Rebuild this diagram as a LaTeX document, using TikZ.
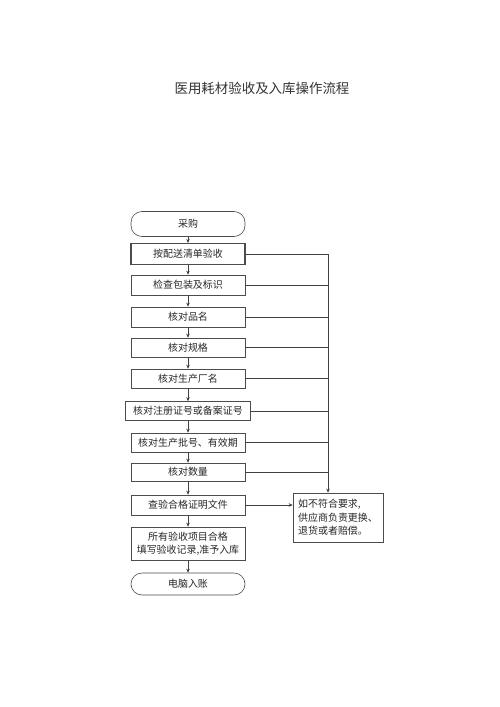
\documentclass[tikz,border=0pt]{standalone}
\usepackage{fontspec}
\newfontfamily\cjk{Noto Sans CJK SC}
\usetikzlibrary{arrows.meta}
\begin{document}
\begin{tikzpicture}[x=1bp,y=-1bp,
  box/.style={draw=black!70,line width=0.6bp,minimum width=114bp,inner sep=0pt,font=\cjk\fontsize{10}{12.5}\selectfont,text=black!85,align=center},
  rbox/.style={box,rounded corners=11bp},
  conn/.style={draw=black!75,line width=0.6bp},
  arr/.style={conn,-{Stealth[length=4bp,width=3.5bp]}}]
\useasboundingbox (0,0) rectangle (500,707);
\node[font=\cjk\fontsize{13.5}{15}\selectfont,text=black!80] (title) at (262,88) {医用耗材验收及入库操作流程};
\node[rbox,minimum height=25bp] (s) at (188,224) {采购};
\node[box,minimum height=21bp,line width=1.1bp] (b1) at (188,254) {按配送清单验收};
\node[box,minimum height=20bp] (b2) at (188,285) {检查包装及标识};
\node[box,minimum height=20bp] (b3) at (188,317) {核对品名};
\node[box,minimum height=19bp] (b4) at (188,347.5) {核对规格};
\node[box,minimum height=19bp] (b5) at (188,378.5) {核对生产厂名};
\node[box,minimum height=19bp,minimum width=125bp] (b6) at (188,411) {核对注册证号或备案证号};
\node[box,minimum height=19bp] (b7) at (188,442.5) {核对生产批号、有效期};
\node[box,minimum height=18bp] (b8) at (188,472) {核对数量};
\node[box,minimum height=20bp] (b9) at (188,505) {查验合格证明文件};
\node[box,minimum height=33bp] (b10) at (188,543.5) {所有验收项目合格\\填写验收记录,准予入库};
\node[rbox,minimum height=22bp] (e) at (188,584) {电脑入账};
\node[box,minimum width=90bp,minimum height=49bp,align=left,font=\cjk\fontsize{10}{13.5}\selectfont] (side) at (338,517.5) {如不符合要求,\\供应商负责更换、\\退货或者赔偿。};
\coordinate (top) at (328,254);
\foreach \a/\b in {s/b1,b1/b2,b2/b3,b3/b4,b4/b5,b5/b6,b6/b7,b7/b8,b8/b9,b9/b10,b10/e}
  \draw[arr] (\a) -- (\b);
\draw[conn] (b1.east) -- (top);
\foreach \n in {b2,b3,b4,b5,b6,b7,b8}
  \draw[conn] (\n.east) -- (\n.east -| top);
\draw[arr] (top) -- (top |- side.north);
\draw[arr] (b9.east) -- (b9.east -| side.west);
\end{tikzpicture}
\end{document}
